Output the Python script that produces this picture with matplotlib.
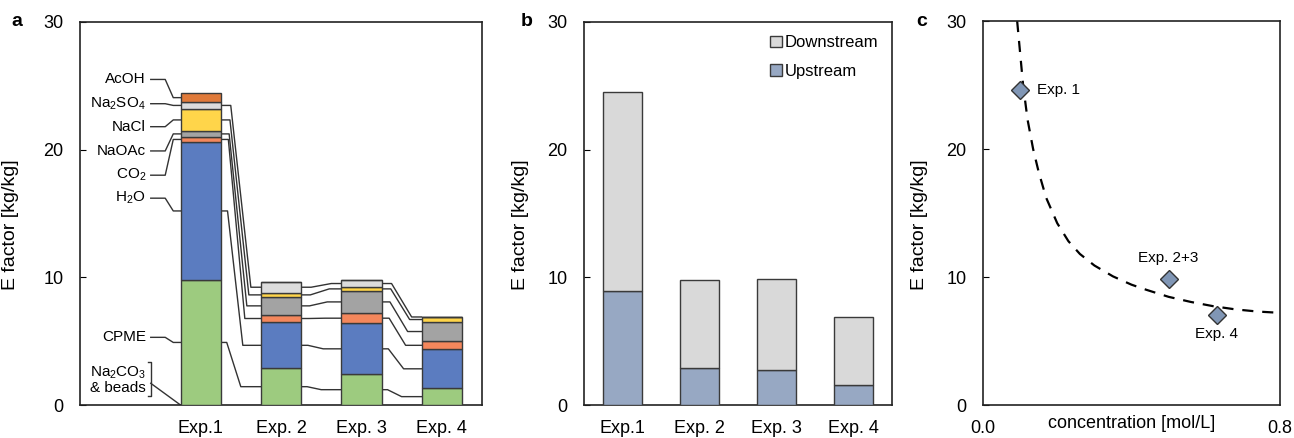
import numpy as np
import matplotlib
matplotlib.use("Agg")
import matplotlib.pyplot as plt
from matplotlib.patches import Patch

plt.rcParams['font.family'] = ['Liberation Sans', 'DejaVu Sans']
plt.rcParams['mathtext.default'] = 'regular'

# ---- panel a: E factor contributions [kg/kg], bottom -> top
exps_a = ["", "Exp.1", "Exp. 2", "Exp. 3", "Exp. 4"]
cpme = [9.8, 2.87, 2.4, 1.31]
h2o = [10.8, 3.61, 4.0, 3.05]
co2 = [0.4, 0.59, 0.8, 0.63]
naoac = [0.47, 1.39, 1.75, 1.53]
nacl = [1.72, 0.33, 0.29, 0.35]
na2so4 = [0.55, 0.87, 0.55, 0.05]
acoh = [0.67, 0.0, 0.0, 0.0]
comp_names = ["CPME", "H$_2$O", "CO$_2$", "NaOAc", "NaCl", "Na$_2$SO$_4$", "AcOH"]
comp_colors = ["#9dcb7f", "#5b7cc0", "#f4875c", "#a3a3a3", "#ffd54a", "#dcdcdc", "#e07a3a"]

# ---- panel b: upstream / downstream split
exps_b = ["Exp.1", "Exp. 2", "Exp. 3", "Exp. 4"]
upstream = [8.95, 2.93, 2.77, 1.54]
downstream = [15.55, 6.84, 7.11, 5.39]

# ---- panel c: E factor vs concentration
conc = [0.10, 0.50, 0.63]
efac = [24.6, 9.84, 7.04]
point_labels = ["Exp. 1", "Exp. 2+3", "Exp. 4"]
# dashed trend curve
curve_x = [0.092, 0.100, 0.108, 0.120, 0.135, 0.150, 0.170, 0.200, 0.230, 0.261,
           0.300, 0.350, 0.400, 0.440, 0.500, 0.560, 0.620, 0.680, 0.740, 0.800]
curve_y = [30.0, 27.5, 25.0, 22.3, 20.0, 18.2, 16.2, 14.2, 12.8, 11.8,
           10.9, 10.05, 9.4, 9.0, 8.45, 8.05, 7.72, 7.47, 7.30, 7.20]

EDGE = "#3a3a3a"
LINE = "#333333"
FS = 13
FS_LAB = 14


def style_axis(ax):
    ax.set_ylim(0, 30)
    ax.set_yticks([0, 10, 20, 30])
    ax.tick_params(axis='y', direction='in', length=4, pad=12, labelsize=FS)
    ax.tick_params(axis='x', length=0, pad=11, labelsize=FS)
    for s in ax.spines.values():
        s.set_color("#222222")
        s.set_linewidth(1.2)


fig = plt.figure(figsize=(12.94, 4.38), dpi=100)

# ================= panel a =================
ax_a = fig.add_axes([80 / 1294, 33 / 438, 402 / 1294, 383 / 438])
style_axis(ax_a)
xa = np.arange(1, 5)
comps = [cpme, h2o, co2, naoac, nacl, na2so4, acoh]
bottoms = np.zeros(4)
centers = []
for vals, col in zip(comps, comp_colors):
    vals = np.array(vals)
    ax_a.bar(xa, vals, 0.5, bottom=bottoms, color=col, edgecolor=EDGE, lw=1, zorder=3)
    centers.append(bottoms + vals / 2)
    bottoms = bottoms + vals

# connector lines between neighbouring bars
for k, vals in enumerate(comps):
    for i in range(3):
        if vals[i] > 0 and vals[i + 1] > 0:
            xr = xa[i] + 0.25
            g = 0.5
            x1 = xr + g * (0.15 + 0.02 * k)
            x2 = xr + g * (0.5 + 0.05 * k)
            ax_a.plot([xr, x1, x2, xa[i + 1] - 0.25],
                      [centers[k][i], centers[k][i], centers[k][i + 1], centers[k][i + 1]],
                      color=LINE, lw=1, zorder=2)

# labels on the left of Exp.1
label_y = [5.3, 16.2, 18.0, 19.9, 21.8, 23.6, 25.5]
for k, (name, ly) in enumerate(zip(comp_names, label_y)):
    cy = centers[k][0]
    ax_a.plot([0.38, 0.56, 0.66, 0.75], [ly, ly, cy, cy], color=LINE, lw=1, zorder=2)
    ax_a.text(0.32, ly, name, ha='right', va='center', fontsize=11)

ax_a.text(0.32, 1.96, "Na$_2$CO$_3$\n& beads", ha='right', va='center',
          multialignment='right', fontsize=11, linespacing=1.05)
ax_a.plot([0.345, 0.38, 0.38, 0.345], [3.4, 3.4, 0.7, 0.7], color=LINE, lw=1)
ax_a.plot([0.38, 0.75], [1.7, 0.0], color=LINE, lw=1)

ax_a.set_xlim(-0.5, 4.5)
ax_a.set_xticks(np.arange(5))
ax_a.set_xticklabels(exps_a)
ax_a.set_ylabel("E factor [kg/kg]", fontsize=FS_LAB)
ax_a.yaxis.set_label_coords(-61 / 402, 0.47)

# ================= panel b =================
ax_b = fig.add_axes([584 / 1294, 33 / 438, 308 / 1294, 383 / 438])
style_axis(ax_b)
xb = np.arange(4)
ax_b.bar(xb, upstream, 0.5, color="#97a8c3", edgecolor=EDGE, lw=1, zorder=3)
ax_b.bar(xb, downstream, 0.5, bottom=upstream, color="#d9d9d9", edgecolor=EDGE, lw=1, zorder=3)
ax_b.set_xlim(-0.5, 3.5)
ax_b.set_xticks(xb)
ax_b.set_xticklabels(exps_b)
ax_b.set_ylabel("E factor [kg/kg]", fontsize=FS_LAB)
ax_b.yaxis.set_label_coords(-55 / 308, 0.47)
handles = [Patch(facecolor="#d9d9d9", edgecolor=EDGE, label="Downstream"),
           Patch(facecolor="#97a8c3", edgecolor=EDGE, label="Upstream")]
ax_b.legend(handles=handles, loc='upper right', frameon=False, fontsize=12,
            handlelength=0.7, handleheight=0.7, handletextpad=0.2,
            labelspacing=0.8, borderaxespad=0.4)

# ================= panel c =================
ax_c = fig.add_axes([983 / 1294, 33 / 438, 297 / 1294, 384 / 438])
style_axis(ax_c)
ax_c.plot(curve_x, curve_y, color='black', lw=1.6, ls=(0, (5, 4)), zorder=2)
ax_c.plot(conc, efac, ls='none', marker='D', ms=9, mfc="#8096b5", mec="#333333",
          mew=1, zorder=3)
offsets = [(12, 0), (0, 10), (0, -9)]
aligns = [('left', 'center'), ('center', 'bottom'), ('center', 'top')]
for xv, yv, t, off, (ha, va) in zip(conc, efac, point_labels, offsets, aligns):
    ax_c.annotate(t, (xv, yv), xytext=off, textcoords='offset points',
                  ha=ha, va=va, fontsize=11)
ax_c.set_xlim(0, 0.8)
ax_c.set_xticks([0, 0.8])
ax_c.set_xticklabels(["0.0", "0.8"])
ax_c.set_xlabel("concentration [mol/L]", fontsize=FS, labelpad=-16)
ax_c.set_ylabel("E factor [kg/kg]", fontsize=FS_LAB)
ax_c.yaxis.set_label_coords(-55 / 297, 0.47)

# panel letters
for x, t in [(17, "a"), (527, "b"), (922, "c")]:
    fig.text(x / 1294, 1 - 22 / 438, t, fontsize=14, fontweight='bold',
             ha='center', va='center')

fig.savefig("out.png", dpi=100)
